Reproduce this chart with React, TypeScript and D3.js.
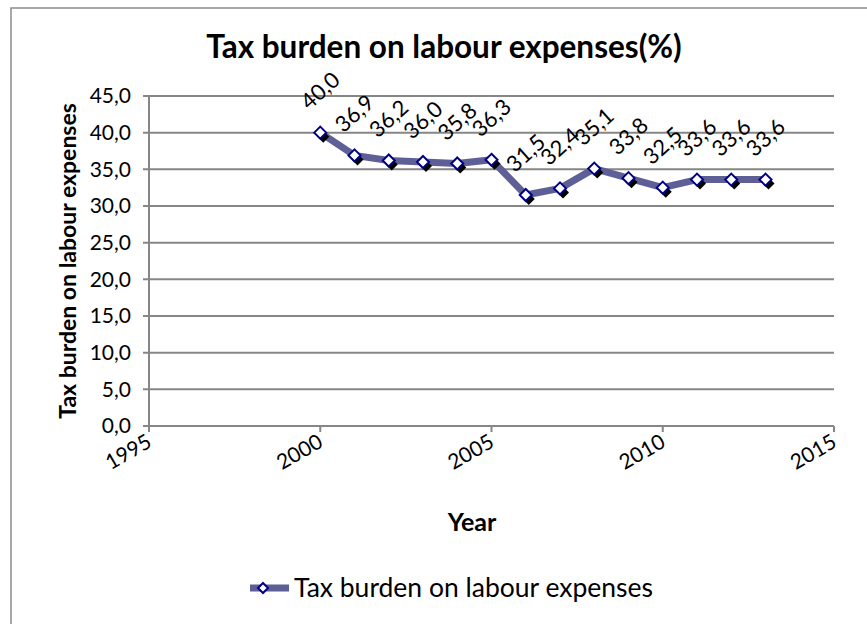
import React from "react";
import * as d3 from "d3";

const years = [2000, 2001, 2002, 2003, 2004, 2005, 2006, 2007, 2008, 2009, 2010, 2011, 2012, 2013];
const values = [40.0, 36.9, 36.2, 36.0, 35.8, 36.3, 31.5, 32.4, 35.1, 33.8, 32.5, 33.6, 33.6, 33.6];
const yTicks = [0, 5, 10, 15, 20, 25, 30, 35, 40, 45];
const xTicks = [1995, 2000, 2005, 2010, 2015];
const title = "Tax burden on labour expenses(%)";
const seriesName = "Tax burden on labour expenses";
const yTitle = "Tax burden on labour expenses";
const xTitle = "Year";

const W = 867;
const H = 624;
const FONT = "Lato, 'Liberation Sans', sans-serif";
const fmt = (v: number) => v.toFixed(1).replace(".", ",");

export default function App() {
  const x = d3.scaleLinear().domain([1995, 2015]).range([149, 834]);
  const y = d3.scaleLinear().domain([0, 45]).range([426, 96]);
  const line = d3
    .line<number>()
    .x((_, i) => x(years[i]))
    .y((d) => y(d));
  const diamond = (cx: number, cy: number, r: number) =>
    `M${cx},${cy - r}L${cx + r},${cy}L${cx},${cy + r}L${cx - r},${cy}Z`;
  const grid = "#868686";
  return (
    <svg
      width={W}
      height={H}
      style={{ position: "absolute", left: 0, top: 0, background: "#fff" }}
      fontFamily={FONT}
    >
      <rect x={0} y={0} width={W} height={H} fill="#fff" />
      <rect x={11} y={8} width={W + 20} height={H + 20} fill="none" stroke="#8c8c8c" strokeWidth={1.5} />
      <text x={444} y={58} textAnchor="middle" fontSize={31.5} fontWeight="bold" fill="#000">
        {title}
      </text>
      {yTicks.map((t) => (
        <g key={t}>
          <line x1={143} x2={834} y1={y(t)} y2={y(t)} stroke={grid} strokeWidth={2} />
          <text x={131} y={y(t)} dy="0.35em" textAnchor="end" fontSize={21} fill="#000">
            {fmt(t)}
          </text>
        </g>
      ))}
      <line x1={149} x2={149} y1={y(45)} y2={432} stroke={grid} strokeWidth={2} />
      {xTicks.map((t) => (
        <g key={t}>
          <line x1={x(t)} x2={x(t)} y1={426} y2={432} stroke={grid} strokeWidth={2} />
          <text
            transform={`translate(${x(t) + 4},${446}) rotate(-30)`}
            textAnchor="end"
            fontSize={21}
            fill="#000"
          >
            {t}
          </text>
        </g>
      ))}
      <text
        transform={`translate(76,${(y(0) + y(45)) / 2}) rotate(-90)`}
        textAnchor="middle"
        fontSize={23}
        fontWeight="bold"
        fill="#000"
      >
        {yTitle}
      </text>
      <text x={472} y={531} textAnchor="middle" fontSize={25} fontWeight="bold" fill="#000">
        {xTitle}
      </text>
      <path d={line(values) || ""} fill="none" stroke="#5e5f96" strokeWidth={7} strokeLinejoin="round" />
      {values.map((v, i) => (
        <path key={"s" + i} d={diamond(x(years[i]) + 3, y(v) + 4, 6)} fill="#000" />
      ))}
      {values.map((v, i) => (
        <path
          key={"m" + i}
          d={diamond(x(years[i]), y(v), 6)}
          fill="#fff"
          stroke="#000088"
          strokeWidth={2}
        />
      ))}
      {values.map((v, i) => (
        <text
          key={"l" + i}
          transform={`translate(${x(years[i])},${y(v) - 42}) rotate(-42)`}
          textAnchor="middle"
          dy="0.35em"
          fontSize={22}
          fill="#000"
        >
          {fmt(v)}
        </text>
      ))}
      <g>
        <line x1={250} x2={289} y1={588} y2={588} stroke="#5e5f96" strokeWidth={7} />
        <path d={diamond(263, 588, 5)} fill="#fff" stroke="#000088" strokeWidth={2} />
        <text x={294} y={588} dy="0.35em" fontSize={26.5} fill="#000">
          {seriesName}
        </text>
      </g>
    </svg>
  );
}
